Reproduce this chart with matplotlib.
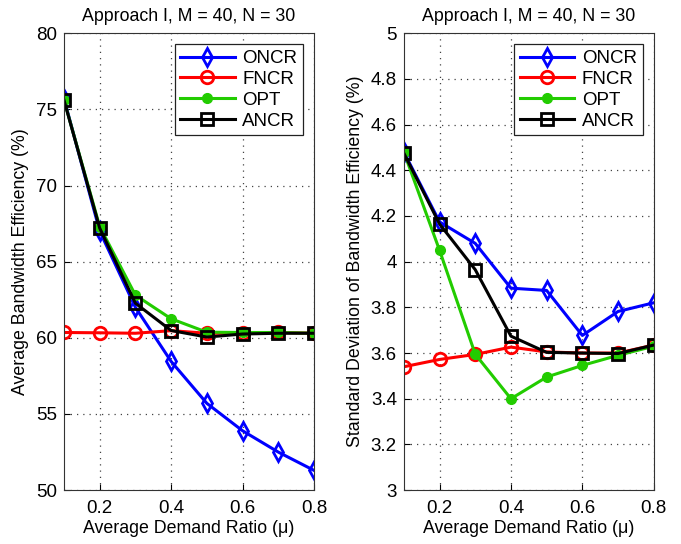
import numpy as np
import matplotlib.pyplot as plt

plt.rcParams['font.family'] = ['Liberation Sans', 'DejaVu Sans']

mu = [0.1, 0.2, 0.3, 0.4, 0.5, 0.6, 0.7, 0.8]

# average bandwidth efficiency (%)
avg_oncr = [75.7, 67.0, 62.0, 58.45, 55.7, 53.9, 52.5, 51.3]
avg_fncr = [60.35, 60.33, 60.3, 60.47, 60.3, 60.3, 60.35, 60.3]
avg_opt = [75.6, 67.3, 62.8, 61.25, 60.37, 60.35, 60.35, 60.3]
avg_ancr = [75.6, 67.2, 62.27, 60.48, 60.05, 60.25, 60.3, 60.3]

# standard deviation of bandwidth efficiency (%)
std_oncr = [4.48, 4.174, 4.08, 3.884, 3.874, 3.677, 3.782, 3.82]
std_fncr = [3.54, 3.572, 3.594, 3.626, 3.605, 3.60, 3.60, 3.635]
std_opt = [4.48, 4.05, 3.595, 3.40, 3.495, 3.546, 3.59, 3.63]
std_ancr = [4.475, 4.165, 3.965, 3.674, 3.603, 3.60, 3.598, 3.635]

names = ['ONCR', 'FNCR', 'OPT', 'ANCR']
styles = [
    dict(color='#0000ff', marker='d', mfc='none', mew=2.0, ms=9),
    dict(color='#ff0000', marker='o', mfc='none', mew=2.0, ms=9),
    dict(color='#22cc00', marker='o', mfc='#22cc00', mew=1.0, ms=7),
    dict(color='#000000', marker='s', mfc='none', mew=2.0, ms=8),
]


def drawPanel(ax, series, ylim, yticks, ylabel):
    for y, name, st in zip(series, names, styles):
        ax.plot(mu, y, lw=2.2, label=name, **st)
    ax.set_xlim(0.1, 0.8)
    ax.set_ylim(*ylim)
    ax.set_xticks([0.2, 0.4, 0.6, 0.8])
    ax.set_yticks(yticks)
    ax.grid(True, linestyle=(0, (1, 4)), color='#444444', lw=0.9)
    ax.set_title('Approach I, M = 40, N = 30', fontsize=12.8, pad=9)
    ax.set_xlabel('Average Demand Ratio (\u03bc)', fontsize=12.8, labelpad=2)
    ax.set_ylabel(ylabel, fontsize=12.8, labelpad=5)
    ax.tick_params(labelsize=13.5, direction='in', length=4, pad=5)
    ax.tick_params(axis='x', pad=7)
    for sp in ax.spines.values():
        sp.set_color('#333333')
    leg = ax.legend(loc='upper right', fontsize=13.5, fancybox=False,
                    framealpha=1, edgecolor='#222222', handlelength=2.9,
                    borderpad=0.3, labelspacing=0.2, handletextpad=0.4,
                    borderaxespad=0.6)
    leg.get_frame().set_linewidth(0.9)


fig = plt.figure(figsize=(6.81, 5.44), dpi=100)
ax1 = fig.add_axes([0.094, 0.099, 0.367, 0.840])
ax2 = fig.add_axes([0.593, 0.099, 0.367, 0.840])

drawPanel(ax1, [avg_oncr, avg_fncr, avg_opt, avg_ancr], (50, 80),
          np.arange(50, 81, 5), 'Average Bandwidth Efficiency (%)')
drawPanel(ax2, [std_oncr, std_fncr, std_opt, std_ancr], (3, 5),
          [3, 3.2, 3.4, 3.6, 3.8, 4, 4.2, 4.4, 4.6, 4.8, 5],
          'Standard Deviation of Bandwidth Efficiency (%)')
ax2.set_yticklabels(['3', '3.2', '3.4', '3.6', '3.8', '4', '4.2', '4.4',
                     '4.6', '4.8', '5'])

fig.savefig('out.png', dpi=100)
plt.close(fig)
